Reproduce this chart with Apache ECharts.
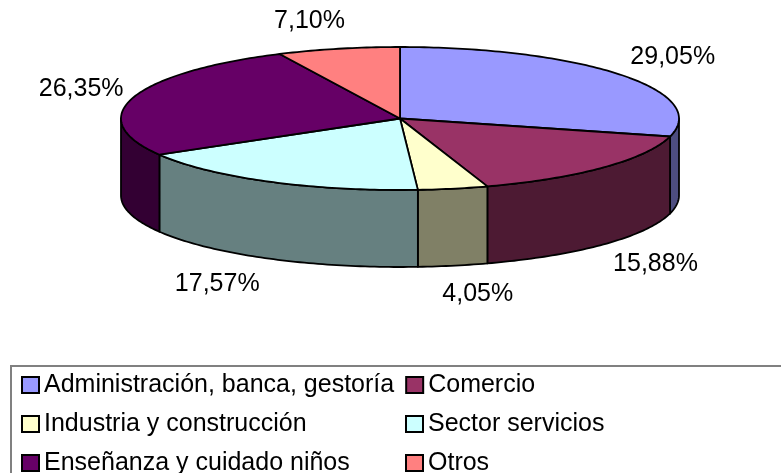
<!DOCTYPE html>
<html>
<head>
<meta charset="utf-8">
<script src="https://cdn.jsdelivr.net/npm/echarts@6/dist/echarts.min.js"></script>
<style>
  html, body { margin: 0; background: #fff; }
  #chart { width: 781px; height: 473px; }
</style>
</head>
<body>
<div id="chart"></div>
<script>
// data
const categories = [
  'Administración, banca, gestoría',
  'Comercio',
  'Industria y construcción',
  'Sector servicios',
  'Enseñanza y cuidado niños',
  'Otros'
];
const shares = [29.05, 15.88, 4.05, 17.57, 26.35, 7.10];

// styles
const topColors = ['#9999FF', '#993366', '#FFFFCC', '#CCFFFF', '#660066', '#FF8080'];
const sideColors = ['#4D4D80', '#4D1A33', '#808066', '#668080', '#330033', '#804040'];
const FONT = '"Liberation Sans", Arial, sans-serif';

// flattened pie geometry (px)
const CX = 400, CY = 118.5, RX = 279, RY = 71.5, DEPTH = 77;
const total = shares.reduce((a, b) => a + b, 0);

function pt(deg, dy) {
  const a = deg * Math.PI / 180;
  return [CX + RX * Math.sin(a), CY - RY * Math.cos(a) + (dy || 0)];
}
function arc(from, to, dy) {
  const n = Math.max(2, Math.ceil(Math.abs(to - from)));
  const pts = [];
  for (let k = 0; k <= n; k++) pts.push(pt(from + (to - from) * k / n, dy));
  return pts;
}

function slice(i, value) {
  const before = shares.slice(0, i).reduce((a, b) => a + b, 0);
  const start = before / total * 360;
  const end = start + value / total * 360;
  const children = [];
  const line = { stroke: '#000', lineWidth: 1.8, lineJoin: 'round' };

  // front wall
  const a = Math.max(start, 90), b = Math.min(end, 270);
  if (b > a) {
    children.push({
      type: 'polygon', z2: 1,
      shape: { points: arc(a, b, 0).concat(arc(b, a, DEPTH)) },
      style: Object.assign({ fill: sideColors[i] }, line)
    });
  }
  // top face
  children.push({
    type: 'polygon', z2: 2,
    shape: { points: [[CX, CY]].concat(arc(start, end, 0)) },
    style: Object.assign({ fill: topColors[i] }, line)
  });
  // label
  const mid = (start + end) / 2 * Math.PI / 180;
  const s = Math.sin(mid), c = Math.cos(mid);
  const lx = CX + RX * s + 52 * Math.max(-1, Math.min(1, 2.5 * s));
  const ly = CY - 100 * c + (c < 0 ? DEPTH : 0);
  children.push({
    type: 'text', z2: 3, x: lx, y: ly,
    style: {
      text: value.toFixed(2).replace('.', ',') + '%',
      fill: '#000', font: '25px ' + FONT,
      align: 'center', verticalAlign: 'middle'
    }
  });
  return { type: 'group', children };
}

const chart = echarts.init(document.getElementById('chart'));
chart.setOption({
  backgroundColor: '#fff',
  animation: false,
  legend: {
    data: categories,
    selectedMode: false,
    orient: 'horizontal',
    left: 11,
    top: 366,
    width: 770,
    padding: [5, 10, 30, 10],
    itemGap: 11,
    itemWidth: 17,
    itemHeight: 16,
    icon: 'rect',
    borderColor: '#808080',
    borderWidth: 2,
    itemStyle: { borderColor: '#000', borderWidth: 2 },
    textStyle: {
      color: '#000', fontSize: 25, fontFamily: FONT,
      width: 350, lineHeight: 28
    }
  },
  series: categories.map((name, i) => ({
    type: 'custom',
    name,
    coordinateSystem: 'none',
    silent: true,
    itemStyle: { color: topColors[i] },
    data: [[shares[i]]],
    renderItem: (params, api) => slice(i, api.value(0))
  }))
});
</script>
</body>
</html>
